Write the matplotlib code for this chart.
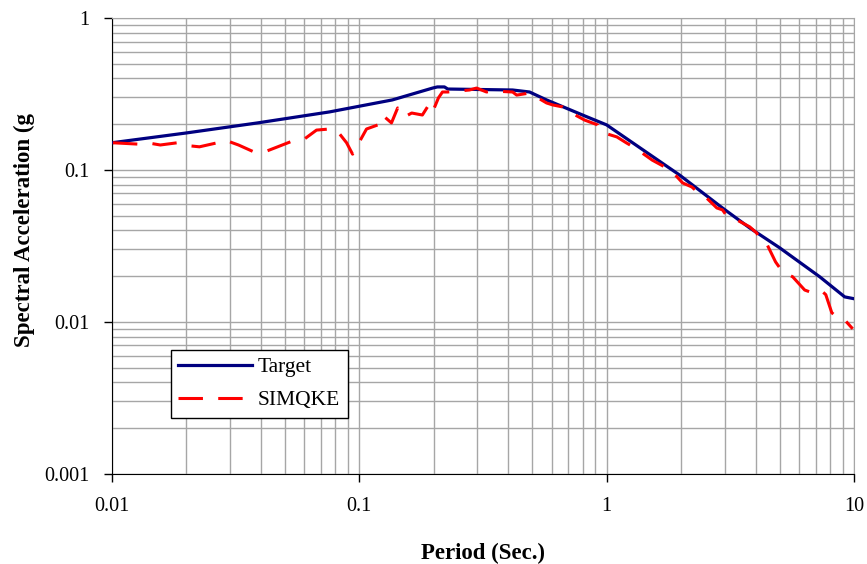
import numpy as np
import matplotlib
matplotlib.use('Agg')
import matplotlib.pyplot as plt
from matplotlib.ticker import LogLocator, NullFormatter

plt.rcParams['font.family'] = ['Liberation Serif', 'DejaVu Serif']

# 目标谱 (Target)
target_period = [0.01, 0.0199, 0.0388, 0.0758, 0.136, 0.198, 0.207, 0.221, 0.228,
                 0.417, 0.488, 0.572, 0.815, 1.0, 1.97, 2.94, 3.79, 5.01, 7.27, 9.17, 10.0]
target_sa = [0.151, 0.175, 0.204, 0.241, 0.289, 0.346, 0.352, 0.352, 0.341,
             0.336, 0.326, 0.289, 0.227, 0.198, 0.0927, 0.0562, 0.0415, 0.0307, 0.0198, 0.0146, 0.0142]

# SIMQKE 人工波反应谱
sim_period = [0.0101, 0.0127, 0.0139, 0.0157, 0.0184, 0.0208, 0.0226, 0.0267, 0.0288, 0.0307,
              0.0325, 0.0377, 0.0422, 0.0468, 0.0537, 0.0601, 0.0672, 0.0758, 0.0810, 0.0889,
              0.0940, 0.107, 0.119, 0.124, 0.135, 0.143, 0.152, 0.163, 0.180, 0.191,
              0.198, 0.209, 0.217, 0.228, 0.279, 0.298, 0.327, 0.346, 0.417, 0.433,
              0.488, 0.572, 0.605, 0.664, 0.708, 0.815, 0.854, 0.920, 0.946, 1.10,
              1.20, 1.30, 1.53, 1.75, 1.83, 2.03, 2.21, 2.33, 2.44, 2.79,
              2.94, 3.08, 3.36, 3.79, 4.04, 4.24, 4.44, 4.82, 5.15, 5.65,
              6.32, 6.81, 7.40, 7.69, 8.13, 8.59, 9.17, 9.88]
sim_sa = [0.151, 0.148, 0.151, 0.146, 0.151, 0.144, 0.142, 0.151, 0.157, 0.151,
          0.146, 0.131, 0.133, 0.142, 0.155, 0.160, 0.183, 0.186, 0.183, 0.151,
          0.127, 0.186, 0.198, 0.230, 0.204, 0.256, 0.223, 0.237, 0.230, 0.268,
          0.241, 0.298, 0.326, 0.326, 0.336, 0.346, 0.326, 0.331, 0.326, 0.311,
          0.321, 0.276, 0.268, 0.260, 0.241, 0.213, 0.207, 0.198, 0.178, 0.165,
          0.151, 0.140, 0.116, 0.103, 0.0985, 0.0821, 0.0773, 0.0716, 0.0695, 0.0562,
          0.0546, 0.0491, 0.0469, 0.0422, 0.0385, 0.0336, 0.0326, 0.0248, 0.0213, 0.0198,
          0.0162, 0.0155, 0.0160, 0.0151, 0.0115, 0.0106, 0.0103, 0.0090]

fig = plt.figure(figsize=(8.67, 5.64), dpi=100)
ax = fig.add_axes([0.129, 0.160, 0.856, 0.808])

ax.plot(target_period, target_sa, color='#000080', lw=2.3, label='Target', zorder=3)
ax.plot(sim_period, sim_sa, color='#ff0000', lw=2.2, dashes=(8, 5), label='SIMQKE', zorder=4)

ax.set_xscale('log')
ax.set_yscale('log')
ax.set_xlim(0.01, 10)
ax.set_ylim(0.001, 1)

ax.set_xticks([0.01, 0.1, 1, 10])
ax.set_xticklabels(['0.01', '0.1', '1', '10'])
ax.set_yticks([0.001, 0.01, 0.1, 1])
ax.set_yticklabels(['0.001', '0.01', '0.1', '1'])
ax.xaxis.set_minor_locator(LogLocator(base=10, subs=np.arange(2, 10)))
ax.yaxis.set_minor_locator(LogLocator(base=10, subs=np.arange(2, 10)))
ax.xaxis.set_minor_formatter(NullFormatter())
ax.yaxis.set_minor_formatter(NullFormatter())

ax.grid(True, which='both', color='#a6a6a6', lw=1.0)
ax.tick_params(which='major', direction='out', length=6, width=1, labelsize=14.5)
ax.tick_params(axis='y', which='major', pad=10)
ax.tick_params(axis='x', which='major', pad=11)
ax.tick_params(which='minor', length=0)

for s in ['top', 'right']:
    ax.spines[s].set_color('#a6a6a6')
for s in ['left', 'bottom']:
    ax.spines[s].set_color('black')

ax.set_xlabel('Period (Sec.)', fontsize=16.5, fontweight='bold', labelpad=19)
ax.set_ylabel('Spectral Acceleration (g', fontsize=16.5, fontweight='bold')
ax.yaxis.set_label_coords(-0.104, 0.535)

leg = ax.legend(loc='lower left', bbox_to_anchor=(0.0795, 0.123), borderaxespad=0,
                fancybox=False, framealpha=1, edgecolor='black', fontsize=15.5,
                handlelength=3.4, handletextpad=0.3, labelspacing=0.6, borderpad=0.35)
leg.get_frame().set_linewidth(1.0)

plt.savefig('out.png', dpi=100)
